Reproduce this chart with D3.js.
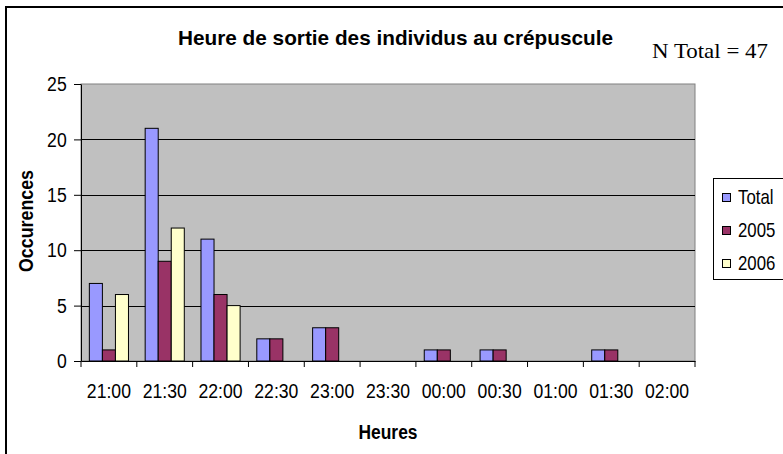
<!DOCTYPE html>
<html>
<head>
<meta charset="utf-8">
<script src="https://cdn.jsdelivr.net/npm/d3@7"></script>
<style>
  body { margin: 0; background: #fff; }
  text { font-family: "Liberation Sans", Arial, sans-serif; fill: #000; }
</style>
</head>
<body>
<div id="chart"></div>
<script>
const hours = ["21:00", "21:30", "22:00", "22:30", "23:00", "23:30", "00:00", "00:30", "01:00", "01:30", "02:00"];
const seriesNames = ["Total", "2005", "2006"];
const totalValues = [7, 21, 11, 2, 3, 0, 1, 1, 0, 1, 0];
const values2005 = [1, 9, 6, 2, 3, 0, 1, 1, 0, 1, 0];
const values2006 = [6, 12, 5, 0, 0, 0, 0, 0, 0, 0, 0];
const yTicks = [0, 5, 10, 15, 20, 25];
const colors = ["#9999FF", "#993366", "#FFFFCC"];

const series = [totalValues, values2005, values2006];
const narrow = "scale(0.84,1)";

const W = 783, H = 454;
const plot = { left: 81, right: 695, top: 84, bottom: 361 };

const svg = d3.select("#chart").append("svg")
    .attr("width", W)
    .attr("height", H);

// outer frame (right and bottom edges fall outside the picture)
svg.append("rect")
    .attr("x", 6).attr("y", 7)
    .attr("width", 820).attr("height", 500)
    .attr("fill", "#fff")
    .attr("stroke", "#000")
    .attr("stroke-width", 2);

const x0 = d3.scaleBand()
    .domain(hours)
    .range([plot.left, plot.right])
    .paddingInner(0)
    .paddingOuter(0);

const x1 = d3.scaleBand()
    .domain(seriesNames)
    .range([0, x0.bandwidth()])
    .paddingOuter(0.64)
    .paddingInner(0);

const y = d3.scaleLinear()
    .domain([0, 25])
    .range([plot.bottom, plot.top]);

// plot area
svg.append("rect")
    .attr("x", plot.left).attr("y", plot.top)
    .attr("width", plot.right - plot.left)
    .attr("height", plot.bottom - plot.top)
    .attr("fill", "#C0C0C0")
    .attr("stroke", "#808080")
    .attr("stroke-width", 1);

// gridlines
svg.append("g")
    .selectAll("line")
    .data(yTicks.filter(d => d > 0 && d < 25))
    .enter().append("line")
    .attr("x1", plot.left).attr("x2", plot.right)
    .attr("y1", d => Math.round(y(d)) + 0.5)
    .attr("y2", d => Math.round(y(d)) + 0.5)
    .attr("stroke", "#000")
    .attr("stroke-width", 1);

// bars
const rows = hours.map((h, i) => ({ hour: h, vals: series.map((s, j) => ({ name: seriesNames[j], v: s[i], c: colors[j] })) }));

svg.append("g")
    .selectAll("g")
    .data(rows)
    .enter().append("g")
    .attr("transform", d => "translate(" + x0(d.hour) + ",0)")
    .selectAll("rect")
    .data(d => d.vals.filter(e => e.v > 0))
    .enter().append("rect")
    .attr("x", d => x1(d.name))
    .attr("y", d => y(d.v))
    .attr("width", x1.bandwidth())
    .attr("height", d => y(0) - y(d.v))
    .attr("fill", d => d.c)
    .attr("stroke", "#000")
    .attr("stroke-width", 1);

// y axis
const yAxis = svg.append("g")
    .attr("transform", "translate(" + plot.left + ",0)")
    .call(d3.axisLeft(y).tickValues(yTicks).tickSize(7).tickPadding(10).tickSizeOuter(0));
yAxis.select(".domain").attr("stroke", "#000");
yAxis.selectAll("text")
    .style("font-size", "21px")
    .attr("transform", narrow);

// x axis
const xAxis = svg.append("g")
    .attr("transform", "translate(0," + plot.bottom + ")")
    .call(d3.axisBottom(x0).tickSize(0).tickPadding(22).tickSizeOuter(0));
xAxis.select(".domain").attr("stroke", "#000");
xAxis.selectAll("text")
    .style("font-size", "21px")
    .attr("transform", narrow);

// x ticks between categories
xAxis.append("g")
    .selectAll("line")
    .data(hours.concat(["end"]))
    .enter().append("line")
    .attr("x1", (d, i) => i < hours.length ? x0(d) : plot.right)
    .attr("x2", (d, i) => i < hours.length ? x0(d) : plot.right)
    .attr("y1", 0).attr("y2", 6)
    .attr("stroke", "#000");

// title
svg.append("text")
    .attr("x", 178)
    .attr("y", 45)
    .attr("textLength", 435)
    .attr("lengthAdjust", "spacingAndGlyphs")
    .style("font-size", "21px")
    .style("font-weight", "bold")
    .text("Heure de sortie des individus au crépuscule");

svg.append("text")
    .attr("x", 652)
    .attr("y", 58)
    .attr("textLength", 116)
    .attr("lengthAdjust", "spacingAndGlyphs")
    .style("font-family", "'Liberation Serif', 'Times New Roman', serif")
    .style("font-size", "22px")
    .text("N Total = 47");

// axis titles
svg.append("text")
    .attr("x", (plot.left + plot.right) / 2)
    .attr("y", 439)
    .attr("text-anchor", "middle")
    .style("font-size", "20px")
    .style("font-weight", "bold")
    .attr("textLength", 59)
    .attr("lengthAdjust", "spacingAndGlyphs")
    .text("Heures");

svg.append("text")
    .attr("transform", "translate(33,221) rotate(-90)")
    .attr("text-anchor", "middle")
    .style("font-size", "20px")
    .style("font-weight", "bold")
    .attr("textLength", 102)
    .attr("lengthAdjust", "spacingAndGlyphs")
    .text("Occurences");

// legend
const legend = svg.append("g");
legend.append("rect")
    .attr("x", 713.5).attr("y", 178.5)
    .attr("width", 100).attr("height", 101)
    .attr("fill", "#fff")
    .attr("stroke", "#000");

const legendY = d3.scalePoint()
    .domain(seriesNames)
    .range([197, 263]);

const items = legend.selectAll(".item")
    .data(seriesNames)
    .enter().append("g")
    .attr("class", "item")
    .attr("transform", d => "translate(722," + legendY(d) + ")");

items.append("rect")
    .attr("x", 0.5).attr("y", -3.5)
    .attr("width", 8).attr("height", 8)
    .attr("fill", (d, i) => colors[i])
    .attr("stroke", "#000");

items.append("text")
    .attr("x", 16)
    .attr("dy", "0.35em")
    .style("font-size", "20px")
    .attr("transform", "translate(16,0) " + narrow + " translate(-16,0)")
    .text(d => d);
</script>
</body>
</html>
